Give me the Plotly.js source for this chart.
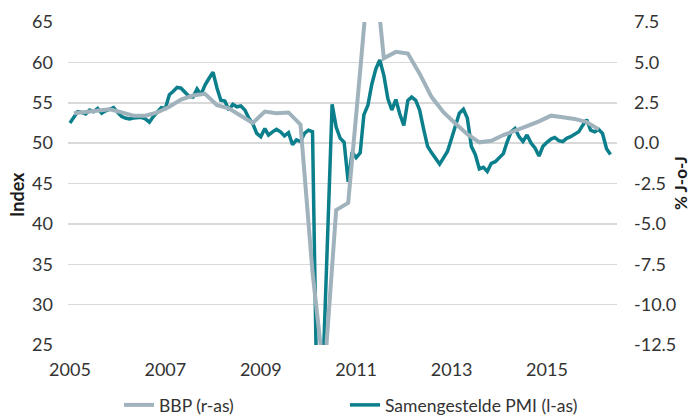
<!DOCTYPE html>
<html>
<head>
<meta charset="utf-8">
<script src="https://cdn.plot.ly/plotly-3.0.1.min.js"></script>
<style>
  html, body { margin: 0; padding: 0; background: #ffffff; }
  #chart { width: 690px; height: 416px; }
</style>
</head>
<body>
<div id="chart"></div>
<script>
// Samengestelde PMI (l-as), monthly from 2005-01 to 2016-05
var pmiStartYear = 2005;
var pmiValues = [
  52.5, 53.2, 53.9, 53.8, 53.6, 54.1, 53.9, 54.3, 53.7, 54.0, 54.2, 54.4,
  53.8, 53.3, 53.1, 53.0, 53.1, 53.1, 53.2, 53.0, 52.6, 53.3, 53.8, 54.4,
  54.3, 56.0, 56.4, 56.9, 56.8, 56.3, 55.8, 55.7, 56.7, 56.0, 57.2, 58.0,
  58.8, 56.8, 55.3, 55.2, 54.1, 54.8, 54.5, 54.6, 54.1, 53.1, 52.4, 51.2,
  50.8, 51.8, 51.0, 51.4, 51.7, 51.4, 50.9, 51.3, 49.8, 50.4, 50.2, 51.2,
  51.6, 51.4, 23.5, 15.0, 26.0, 40.6, 54.8, 52.0, 50.6, 50.1, 45.2, 48.9,
  48.2, 48.8, 53.5, 54.7, 57.3, 59.2, 60.3, 58.4, 55.5, 54.1, 55.4, 53.6,
  52.2, 55.3, 55.7, 55.3, 54.1, 51.7, 49.6, 48.8, 48.0, 47.4, 48.2, 49.0,
  50.6, 52.1, 53.7, 54.2, 53.1, 49.6, 48.6, 46.8, 47.0, 46.5, 47.5, 47.7,
  48.2, 48.7, 50.1, 51.4, 51.8, 50.8, 50.2, 51.0, 50.0, 49.4, 48.4, 49.6,
  50.1, 50.5, 50.7, 50.3, 50.2, 50.6, 50.8, 51.1, 51.4, 52.2, 52.9, 51.6,
  51.4, 51.7, 51.2, 49.3, 48.6
];

// BBP (r-as), % J-o-J, quarterly (mid-quarter months) from 2005-02
var bbpValues = [
  1.85, 1.95, 2.0, 2.1, 1.9, 1.7, 1.7, 1.9,
  2.25, 2.7, 2.95, 3.05, 2.35, 2.15, 1.7, 1.25,
  1.95, 1.85, 1.9, 1.15, -8.0, -14.5, -4.15, -3.7,
  4.5, 12.7, 5.25, 5.65, 5.55, 4.3, 2.85, 1.9,
  1.2, 0.55, 0.05, 0.15, 0.5, 0.8, 1.05, 1.35,
  1.7, 1.6, 1.5, 1.3, 0.85
];

var xTickVals = ['2005-01-01', '2007-01-01', '2009-01-01', '2011-01-01', '2013-01-01', '2015-01-01'];
var xTickText = ['2005', '2007', '2009', '2011', '2013', '2015'];
var leftTickVals = [25, 30, 35, 40, 45, 50, 55, 60, 65];
var leftTickText = ['25', '30', '35', '40', '45', '50', '55', '60', '65'];
var rightTickVals = [-12.5, -10, -7.5, -5, -2.5, 0, 2.5, 5, 7.5];
var rightTickText = ['-12.5', '-10.0', '-7.5', '-5.0', '-2.5', '0.0', '2.5', '5.0', '7.5'];

var seriesNames = ['BBP (r-as)', 'Samengestelde PMI (l-as)'];
var leftTitle = 'Index';
var rightTitle = '% J-o-J';

function monthDate(startYear, startMonth, offset) {
  var m = startMonth - 1 + offset;
  var y = startYear + Math.floor(m / 12);
  var mm = (m % 12) + 1;
  return y + '-' + (mm < 10 ? '0' : '') + mm + '-01';
}

var pmiDates = pmiValues.map(function (v, i) { return monthDate(pmiStartYear, 1, i); });
var bbpDates = bbpValues.map(function (v, i) { return monthDate(pmiStartYear, 2, i * 3); });

var fontFamily = 'Lato, "Open Sans", sans-serif';
var textColor = '#333333';

var traces = [
  {
    x: bbpDates, y: bbpValues, yaxis: 'y2', type: 'scatter', mode: 'lines',
    name: seriesNames[0], legend: 'legend',
    line: { color: '#a0b3bc', width: 4 }
  },
  {
    x: pmiDates, y: pmiValues, yaxis: 'y', type: 'scatter', mode: 'lines',
    name: seriesNames[1], legend: 'legend2',
    line: { color: '#0b7f8b', width: 3.5 }
  }
];

var legendFont = { family: fontFamily, size: 17.5, color: textColor };

var layout = {
  width: 690, height: 416,
  margin: { l: 68, r: 73, t: 22, b: 71 },
  paper_bgcolor: '#ffffff', plot_bgcolor: '#ffffff',
  font: { family: fontFamily, size: 18, color: textColor },
  showlegend: true,
  legend: {
    orientation: 'h', xref: 'container', yref: 'container',
    x: 119 / 690, xanchor: 'left', y: 11 / 416, yanchor: 'middle',
    font: legendFont, bgcolor: 'rgba(0,0,0,0)'
  },
  legend2: {
    orientation: 'h', xref: 'container', yref: 'container',
    x: 345 / 690, xanchor: 'left', y: 11 / 416, yanchor: 'middle',
    font: legendFont, bgcolor: 'rgba(0,0,0,0)'
  },
  xaxis: {
    type: 'date',
    range: ['2004-12-17', '2016-06-20'],
    tickvals: xTickVals, ticktext: xTickText,
    showgrid: false, zeroline: false, showline: false, ticks: '',
    ticklabelstandoff: 12,
    tickfont: { family: fontFamily, size: 18, color: textColor }
  },
  yaxis: {
    range: [25, 65],
    tickvals: leftTickVals, ticktext: leftTickText,
    showgrid: true, gridcolor: '#d9d9d9', gridwidth: 1.5,
    zeroline: false, showline: false, ticks: '',
    ticklabelstandoff: 14,
    tickfont: { family: fontFamily, size: 18, color: textColor }
  },
  yaxis2: {
    overlaying: 'y', side: 'right',
    range: [-12.5, 7.5],
    tickvals: rightTickVals, ticktext: rightTickText,
    showgrid: false, zeroline: false, showline: false, ticks: '',
    ticklabelstandoff: 16,
    tickfont: { family: fontFamily, size: 18, color: textColor }
  },
  annotations: [
    {
      text: '<b>' + leftTitle + '</b>', xref: 'paper', yref: 'paper',
      x: -0.093, y: 0.4675, xanchor: 'center', yanchor: 'middle',
      textangle: -90, showarrow: false,
      font: { family: fontFamily, size: 18, color: '#1a1a1a' }
    },
    {
      text: '<b>' + rightTitle + '</b>', xref: 'paper', yref: 'paper',
      x: (680 - 68) / 549, y: 0.5015, xanchor: 'center', yanchor: 'middle',
      textangle: -90, showarrow: false,
      font: { family: fontFamily, size: 17, color: '#1a1a1a' }
    }
  ]
};

Plotly.newPlot('chart', traces, layout, { displayModeBar: false, staticPlot: true });
</script>
</body>
</html>
